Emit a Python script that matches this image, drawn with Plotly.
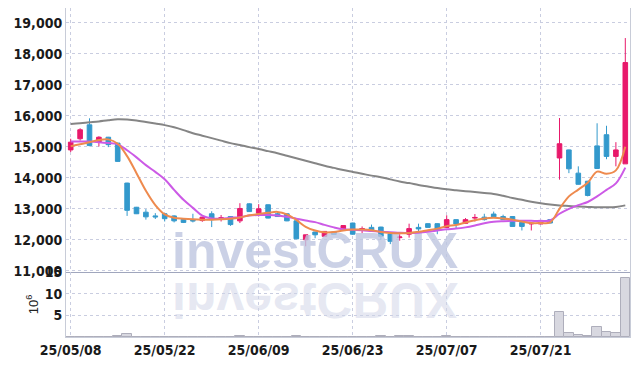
import plotly.graph_objects as go

dates = ["25/05/08","25/05/09","25/05/12","25/05/13","25/05/14","25/05/15","25/05/16","25/05/19","25/05/20","25/05/21",
         "25/05/22","25/05/23","25/05/26","25/05/27","25/05/28","25/05/29","25/05/30","25/06/02","25/06/04","25/06/05",
         "25/06/09","25/06/10","25/06/11","25/06/12","25/06/13","25/06/16","25/06/17","25/06/18","25/06/19","25/06/20",
         "25/06/23","25/06/24","25/06/25","25/06/26","25/06/27","25/06/30","25/07/01","25/07/02","25/07/03","25/07/04",
         "25/07/07","25/07/08","25/07/09","25/07/10","25/07/11","25/07/14","25/07/15","25/07/16","25/07/17","25/07/18",
         "25/07/21","25/07/22","25/07/23","25/07/24","25/07/25","25/07/28","25/07/29","25/07/30","25/07/31","25/08/01"]

open_ = [14900,15260,15710,15140,15310,15120,13830,13050,12890,12770,
         12840,12770,12660,12630,12620,12840,12700,12750,12610,13160,
         12860,13130,12840,12840,12610,12000,12250,12110,12250,12320,
         12540,12340,12400,12410,12190,12070,12180,12400,12520,12520,
         12400,12650,12530,12700,12730,12830,12750,12750,12560,12510,
         12510,12650,14640,14900,14150,13890,15030,15390,14690,14450]
high = [15260,15600,15920,15340,15320,15130,13840,13060,12990,12860,
        12850,12790,12680,12840,12740,12920,12800,12760,13180,13180,
        13150,13140,12900,12850,12620,12160,12260,12280,12260,12470,
        12550,12430,12490,12420,12200,12180,12520,12520,12530,12530,
        12790,12660,12700,12830,12840,12910,12810,12760,12570,12530,
        12580,12660,15930,14910,14370,13900,15760,15680,15150,18510]
low = [14830,15200,15020,15010,14990,14520,12770,12830,12650,12670,
       12590,12560,12540,12560,12580,12410,12590,12450,12540,12900,
       12750,12690,12740,12600,12030,11790,12050,12100,12160,12300,
       12160,12210,12320,12000,11860,11970,12070,12250,12400,12180,
       12390,12380,12520,12590,12620,12740,12640,12430,12300,12300,
       12500,12530,13940,14150,13780,13400,14300,14600,14370,14450]
close = [15150,15550,15040,15310,15070,14530,12950,12840,12740,12740,
         12680,12610,12560,12610,12730,12650,12710,12490,13010,12910,
         13000,12700,12750,12610,12030,12160,12160,12270,12170,12460,
         12180,12360,12320,12110,11950,12090,12360,12350,12400,12320,
         12650,12510,12650,12720,12650,12740,12650,12430,12430,12530,
         12570,12540,15100,14290,13790,13430,14300,14690,14900,17720]

volume_m = [0.05,0.05,0.05,0.05,0.05,0.3,0.7,0.05,0.05,0.05,
            0.05,0.05,0.05,0.05,0.05,0.05,0.05,0.05,0.2,0.05,
            0.05,0.05,0.05,0.05,0.2,0.05,0.05,0.05,0.05,0.05,
            0.05,0.05,0.05,0.2,0.05,0.2,0.2,0.05,0.05,0.05,
            0.2,0.05,0.05,0.05,0.05,0.05,0.05,0.05,0.05,0.05,
            0.05,0.05,5.8,0.9,0.45,0.23,2.3,1.2,0.9,13.6]

ma_short = [15020,15080,15150,15220,15240,15100,14700,14150,13580,13120,
            12820,12710,12680,12660,12650,12650,12660,12680,12720,12790,
            12830,12870,12900,12820,12640,12420,12300,12240,12250,12300,
            12330,12330,12310,12250,12220,12210,12220,12260,12310,12360,
            12440,12480,12560,12630,12690,12710,12690,12650,12590,12540,
            12540,12560,13000,13400,13620,13840,14200,14130,14240,15000]
ma_mid = [15170,15175,15170,15150,15120,15080,14890,14660,14410,14190,
          13950,13610,13290,13030,12780,12690,12680,12710,12730,12780,
          12800,12800,12785,12740,12680,12620,12570,12480,12400,12340,
          12320,12310,12280,12260,12245,12225,12215,12230,12260,12300,
          12340,12360,12400,12460,12530,12580,12600,12610,12610,12610,
          12610,12620,12840,13000,13120,13220,13400,13610,13820,14330]
ma_long = [15735,15760,15790,15820,15860,15890,15880,15850,15800,15750,
           15700,15630,15540,15440,15360,15280,15200,15120,15060,14990,
           14930,14860,14790,14710,14630,14550,14470,14390,14320,14250,
           14190,14130,14070,14020,13950,13880,13830,13770,13720,13670,
           13630,13600,13570,13540,13510,13480,13420,13350,13290,13230,
           13180,13140,13110,13090,13070,13060,13050,13050,13060,13110]

price_ticks = [11000,12000,13000,14000,15000,16000,17000,18000,19000]
vol_ticks = [5,10,15]
date_ticks = dates[::10]
watermark = "investCRUX"

UP = "#e8196b"
DOWN = "#3399cc"
GRID = "#c9cde0"
FONTFAM = "Liberation Sans Narrow, DejaVu Sans Condensed, Liberation Sans"
TICKFONT = dict(family=FONTFAM, size=14, color="#1a1a1a", weight="bold")

fig = go.Figure()

# watermark (drawn under everything)
fig.add_trace(go.Scatter(x=[dates[26]], y=[11500], mode="text", text=[watermark],
                         textfont=dict(family="Liberation Sans", size=50, color="rgba(190,198,224,0.8)", weight="bold"),
                         textposition="middle center", cliponaxis=False, hoverinfo="skip",
                         showlegend=False, xaxis="x", yaxis="y"))
fig.add_trace(go.Scatter(x=[dates[26]], y=[7.4], mode="text", text=[watermark],
                         textfont=dict(family="Liberation Sans", size=50, color="rgba(208,213,232,0.55)", weight="bold"),
                         textposition="middle center", cliponaxis=False, hoverinfo="skip",
                         showlegend=False, xaxis="x2", yaxis="y2"))

fig.add_trace(go.Candlestick(x=dates, open=open_, high=high, low=low, close=close,
                             increasing=dict(line=dict(color=UP, width=1), fillcolor=UP),
                             decreasing=dict(line=dict(color=DOWN, width=1), fillcolor=DOWN),
                             showlegend=False, xaxis="x", yaxis="y"))

fig.add_trace(go.Scatter(x=dates, y=ma_long, mode="lines", line=dict(color="#858585", width=2, shape="spline"),
                         showlegend=False, xaxis="x", yaxis="y"))
fig.add_trace(go.Scatter(x=dates, y=ma_mid, mode="lines", line=dict(color="#cc5ae6", width=2, shape="spline"),
                         showlegend=False, xaxis="x", yaxis="y"))
fig.add_trace(go.Scatter(x=dates, y=ma_short, mode="lines", line=dict(color="#ee8a4e", width=2, shape="spline"),
                         showlegend=False, xaxis="x", yaxis="y"))

fig.add_trace(go.Bar(x=dates, y=volume_m, marker=dict(color="#d8d8e0", line=dict(color="#aeaebb", width=1)),
                     showlegend=False, xaxis="x2", yaxis="y2"))

split = 65 / 329

fig.update_layout(
    width=639, height=366,
    margin=dict(l=66, r=9, t=8, b=29, pad=0, autoexpand=False),
    paper_bgcolor="white", plot_bgcolor="white",
    bargap=0,
    xaxis=dict(type="category", categoryorder="array", categoryarray=dates,
               range=[-0.5, len(dates) - 0.5], anchor="y", domain=[0, 1], automargin=False,
               rangeslider=dict(visible=False), showticklabels=False,
               tickvals=date_ticks, showgrid=True, gridcolor=GRID, griddash="dot", gridwidth=1,
               showline=True, linecolor="#a0a6bd", linewidth=1, zeroline=False),
    yaxis=dict(domain=[split, 1], anchor="x", range=[10960, 19480], tickvals=price_ticks, automargin=False,
               tickformat=",d", tickfont=TICKFONT, showgrid=True, gridcolor=GRID, griddash="dot",
               showline=True, linecolor="#c8ccd8", linewidth=1, mirror=True, zeroline=False, ticks=""),
    xaxis2=dict(type="category", categoryorder="array", categoryarray=dates, matches="x",
                range=[-0.5, len(dates) - 0.5], anchor="y2", domain=[0, 1], automargin=False,
                tickvals=date_ticks, ticktext=date_ticks, tickfont=TICKFONT, showgrid=True,
                gridcolor=GRID, griddash="dot", showline=True, linecolor="#c8ccd8", linewidth=1,
                zeroline=False, ticks=""),
    yaxis2=dict(domain=[0, split], anchor="x2", range=[0, 15], tickvals=vol_ticks, automargin=False,
                tickfont=TICKFONT, showgrid=True, gridcolor=GRID, griddash="dot",
                showline=True, linecolor="#c8ccd8", linewidth=1, mirror=True, zeroline=False, ticks="",
                title=dict(text="10<sup>6</sup>", font=dict(family="Liberation Sans", size=13, color="#222222"),
                           standoff=3)),
)

post = """
var els = Array.from(document.querySelectorAll('.textpoint text')).filter(function(e){return e.textContent==='investCRUX';});
if (els.length > 1) {
  var e = els[els.length-1];
  e.style.transformBox = 'fill-box';
  e.style.transformOrigin = 'center';
  e.style.transform = 'scaleY(-1)';
}
"""

fig.write_html("out.html", post_script=post)
